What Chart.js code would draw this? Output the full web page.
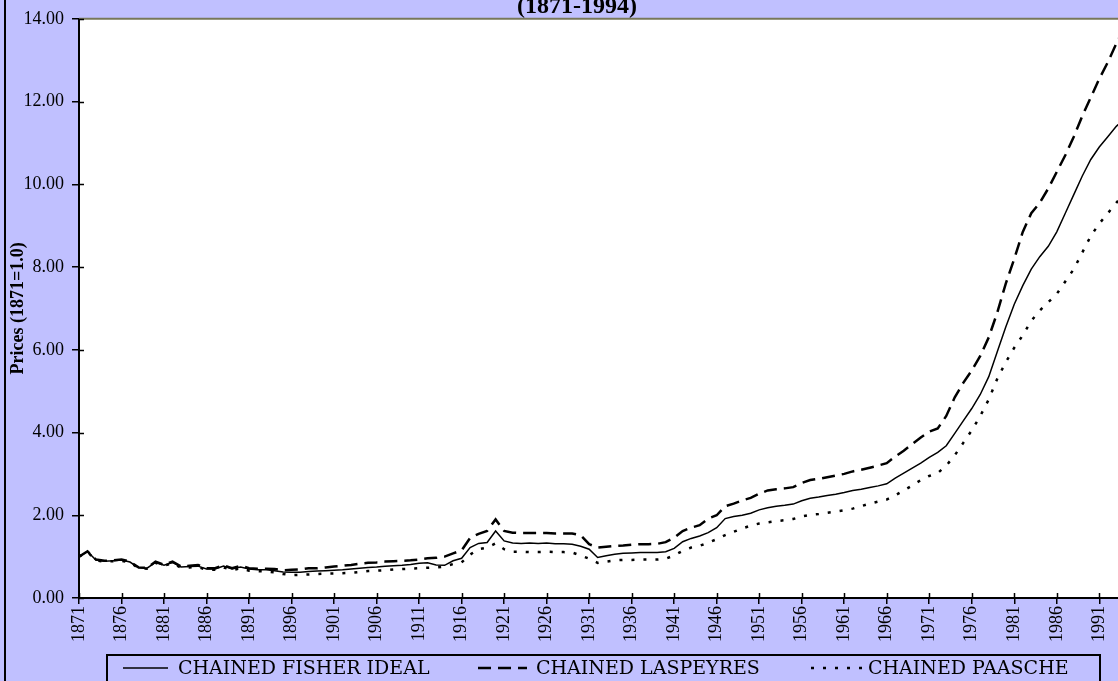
<!DOCTYPE html>
<html>
<head>
<meta charset="utf-8">
<script src="https://cdn.jsdelivr.net/npm/chart.js@4.4.1/dist/chart.umd.min.js"></script>
<style>
body { margin: 0; background: #c0c0ff; }
canvas { display: block; }
</style>
</head>
<body>
<canvas id="myChart-prix" width="1118" height="681"></canvas>
<script>
// annees
const years = [
    1871, 1872, 1873, 1874, 1875, 1876, 1877, 1878, 1879, 1880,
    1881, 1882, 1883, 1884, 1885, 1886, 1887, 1888, 1889, 1890,
    1891, 1892, 1893, 1894, 1895, 1896, 1897, 1898, 1899, 1900,
    1901, 1902, 1903, 1904, 1905, 1906, 1907, 1908, 1909, 1910,
    1911, 1912, 1913, 1914, 1915, 1916, 1917, 1918, 1919, 1920,
    1921, 1922, 1923, 1924, 1925, 1926, 1927, 1928, 1929, 1930,
    1931, 1932, 1933, 1934, 1935, 1936, 1937, 1938, 1939, 1940,
    1941, 1942, 1943, 1944, 1945, 1946, 1947, 1948, 1949, 1950,
    1951, 1952, 1953, 1954, 1955, 1956, 1957, 1958, 1959, 1960,
    1961, 1962, 1963, 1964, 1965, 1966, 1967, 1968, 1969, 1970,
    1971, 1972, 1973, 1974, 1975, 1976, 1977, 1978, 1979, 1980,
    1981, 1982, 1983, 1984, 1985, 1986, 1987, 1988, 1989, 1990,
    1991, 1992, 1993, 1994
];

// chained fisher ideal
const fisher = [
    1.00, 1.12, 0.92, 0.89, 0.90, 0.92, 0.87, 0.73, 0.72, 0.86,
    0.79, 0.86, 0.75, 0.76, 0.77, 0.70, 0.70, 0.77, 0.70, 0.75,
    0.70, 0.68, 0.68, 0.66, 0.63, 0.62, 0.62, 0.64, 0.65, 0.66,
    0.67, 0.68, 0.70, 0.72, 0.74, 0.75, 0.77, 0.78, 0.79, 0.81,
    0.84, 0.85, 0.80, 0.79, 0.90, 0.96, 1.22, 1.32, 1.34, 1.62,
    1.38, 1.33, 1.32, 1.33, 1.32, 1.33, 1.31, 1.31, 1.30, 1.25,
    1.18, 0.98, 1.02, 1.06, 1.08, 1.09, 1.10, 1.10, 1.10, 1.12,
    1.20, 1.36, 1.44, 1.50, 1.58, 1.70, 1.92, 1.97, 2.00, 2.05,
    2.13, 2.18, 2.22, 2.24, 2.27, 2.35, 2.41, 2.44, 2.48, 2.51,
    2.55, 2.60, 2.63, 2.67, 2.71, 2.76, 2.90, 3.02, 3.14, 3.26,
    3.40, 3.52, 3.68, 3.98, 4.28, 4.58, 4.92, 5.35, 5.95, 6.55,
    7.10, 7.55, 7.95, 8.25, 8.50, 8.85, 9.30, 9.75, 10.20, 10.60,
    10.90, 11.15, 11.40, 11.60
];

// chained laspeyres
const laspeyres = [
    1.00, 1.13, 0.93, 0.90, 0.91, 0.93, 0.88, 0.74, 0.73, 0.88,
    0.80, 0.88, 0.76, 0.78, 0.80, 0.72, 0.72, 0.79, 0.72, 0.78,
    0.72, 0.71, 0.71, 0.70, 0.67, 0.68, 0.69, 0.72, 0.72, 0.74,
    0.76, 0.78, 0.80, 0.83, 0.85, 0.86, 0.88, 0.89, 0.90, 0.91,
    0.93, 0.96, 0.97, 1.00, 1.08, 1.15, 1.45, 1.55, 1.62, 1.90,
    1.62, 1.58, 1.57, 1.57, 1.57, 1.57, 1.56, 1.56, 1.56, 1.52,
    1.30, 1.22, 1.24, 1.26, 1.27, 1.29, 1.30, 1.30, 1.31, 1.35,
    1.46, 1.62, 1.70, 1.76, 1.92, 2.00, 2.22, 2.28, 2.36, 2.42,
    2.52, 2.60, 2.63, 2.65, 2.68, 2.78, 2.85, 2.88, 2.92, 2.96,
    3.00, 3.06, 3.10, 3.15, 3.20, 3.26, 3.42, 3.56, 3.72, 3.88,
    4.02, 4.10, 4.40, 4.85, 5.20, 5.50, 5.85, 6.30, 6.90, 7.60,
    8.20, 8.85, 9.30, 9.55, 9.90, 10.30, 10.70, 11.15, 11.65, 12.10,
    12.55, 12.95, 13.40, 13.80
];

// chained paasche
const paasche = [
    1.00, 1.11, 0.91, 0.88, 0.89, 0.90, 0.86, 0.72, 0.71, 0.85,
    0.78, 0.84, 0.73, 0.74, 0.75, 0.68, 0.68, 0.74, 0.67, 0.72,
    0.66, 0.65, 0.64, 0.62, 0.58, 0.55, 0.56, 0.57, 0.58, 0.59,
    0.59, 0.60, 0.61, 0.63, 0.65, 0.66, 0.67, 0.69, 0.70, 0.71,
    0.72, 0.73, 0.74, 0.76, 0.82, 0.86, 1.05, 1.18, 1.22, 1.32,
    1.18, 1.12, 1.12, 1.11, 1.11, 1.12, 1.11, 1.11, 1.10, 1.03,
    0.95, 0.85, 0.88, 0.91, 0.92, 0.92, 0.93, 0.93, 0.93, 0.95,
    1.03, 1.14, 1.22, 1.26, 1.34, 1.42, 1.52, 1.60, 1.68, 1.75,
    1.80, 1.83, 1.86, 1.88, 1.91, 1.97, 2.01, 2.03, 2.06, 2.09,
    2.12, 2.16, 2.22, 2.28, 2.33, 2.38, 2.48, 2.60, 2.72, 2.85,
    2.95, 3.02, 3.20, 3.45, 3.75, 4.05, 4.40, 4.80, 5.30, 5.70,
    6.05, 6.35, 6.70, 6.95, 7.15, 7.35, 7.65, 7.95, 8.35, 8.75,
    9.05, 9.30, 9.55, 9.80
];

// etiquettes axe x
const xTickYears = [1871, 1876, 1881, 1886, 1891, 1896, 1901, 1906, 1911, 1916,
    1921, 1926, 1931, 1936, 1941, 1946, 1951, 1956, 1961, 1966, 1971, 1976,
    1981, 1986, 1991];

const legendLabels = ['CHAINED FISHER IDEAL', 'CHAINED LASPEYRES', 'CHAINED PAASCHE'];

const toPoints = (arr) => arr.map((v, i) => ({ x: years[i], y: v }));

const tickFont = { family: 'Liberation Serif', size: 18 };

// fond, bordures, titre et legende
const decor = {
    id: 'decor',
    beforeDraw(chart) {
        const { ctx, chartArea: a } = chart;
        ctx.save();
        ctx.fillStyle = '#c0c0ff';
        ctx.fillRect(0, 0, chart.width, chart.height);
        ctx.fillStyle = '#ffffff';
        ctx.fillRect(a.left, a.top, a.right - a.left, a.bottom - a.top);
        ctx.restore();
    },
    afterDraw(chart) {
        const { ctx, chartArea: a } = chart;
        const xs = chart.scales.x, ys = chart.scales.y;
        ctx.save();

        // bord haut du graphique
        ctx.strokeStyle = '#77775a';
        ctx.lineWidth = 2;
        ctx.beginPath();
        ctx.moveTo(a.left, a.top);
        ctx.lineTo(a.right, a.top);
        ctx.stroke();

        // petites graduations vers l'interieur
        ctx.strokeStyle = '#000';
        ctx.lineWidth = 1.5;
        ctx.beginPath();
        xs.ticks.forEach(t => {
            const px = Math.round(xs.getPixelForValue(t.value)) + 0.5;
            ctx.moveTo(px, a.bottom);
            ctx.lineTo(px, a.bottom - 5);
        });
        ys.ticks.forEach(t => {
            const py = Math.round(ys.getPixelForValue(t.value)) + 0.5;
            ctx.moveTo(a.left, py);
            ctx.lineTo(a.left + 5, py);
        });
        ctx.stroke();

        // bordure gauche
        ctx.fillStyle = '#000';
        ctx.fillRect(4, 0, 2, chart.height);

        // titre (coupe en haut)
        ctx.font = 'bold 24px "Liberation Serif"';
        ctx.textAlign = 'center';
        ctx.textBaseline = 'alphabetic';
        ctx.fillText('(1871-1994)', 577, 13);

        // legende
        ctx.lineWidth = 2;
        ctx.strokeRect(107, 655, 993, 40);
        const samples = [[123, 168, 178], [478, 527, 536], [811, 864, 868]];
        ctx.font = '19px "DejaVu Serif"';
        ctx.textAlign = 'left';
        ctx.textBaseline = 'middle';
        chart.data.datasets.forEach((ds, i) => {
            const s = samples[i];
            ctx.save();
            ctx.strokeStyle = '#000';
            ctx.lineWidth = ds.borderWidth;
            ctx.setLineDash(ds.borderDash || []);
            ctx.beginPath();
            ctx.moveTo(s[0], 668);
            ctx.lineTo(s[1], 668);
            ctx.stroke();
            ctx.restore();
            ctx.fillStyle = '#000';
            ctx.fillText(legendLabels[i], s[2], 669);
        });
        ctx.restore();
    }
};

const ctx1 = document.getElementById('myChart-prix').getContext('2d');
const myChart1 = new Chart(ctx1, {
    type: 'line',
    data: {
        datasets: [{
            label: legendLabels[0],
            data: toPoints(fisher),
            borderColor: '#000',
            borderWidth: 1.5,
            pointRadius: 0,
            tension: 0
        }, {
            label: legendLabels[1],
            data: toPoints(laspeyres),
            borderColor: '#000',
            borderWidth: 2.5,
            borderDash: [13, 7],
            pointRadius: 0,
            tension: 0
        }, {
            label: legendLabels[2],
            data: toPoints(paasche),
            borderColor: '#000',
            borderWidth: 2.5,
            borderDash: [3, 9],
            pointRadius: 0,
            tension: 0
        }]
    },
    options: {
        responsive: false,
        animation: false,
        layout: { padding: { top: 14, left: 0, right: 0, bottom: 33 } },
        plugins: {
            legend: { display: false },
            tooltip: { enabled: false }
        },
        scales: {
            x: {
                type: 'linear',
                min: 1871,
                max: 1993.2,
                afterBuildTicks: (scale) => {
                    scale.ticks = xTickYears.map(v => ({ value: v }));
                },
                afterFit: (scale) => {
                    scale.height = 50;
                    scale.paddingLeft = 0;
                    scale.paddingRight = 0;
                },
                ticks: {
                    autoSkip: false,
                    minRotation: 90,
                    maxRotation: 90,
                    color: '#000',
                    font: tickFont,
                    padding: 2,
                    callback: (v) => String(v)
                },
                grid: {
                    drawOnChartArea: false,
                    drawTicks: true,
                    tickLength: 6,
                    color: '#000',
                    lineWidth: 1.5
                },
                border: { display: true, color: '#000', width: 2 }
            },
            y: {
                min: 0,
                max: 14,
                afterFit: (scale) => { scale.width = 79; },
                ticks: {
                    stepSize: 2,
                    color: '#000',
                    font: tickFont,
                    padding: 8,
                    callback: (v) => v.toFixed(2)
                },
                grid: {
                    drawOnChartArea: false,
                    drawTicks: true,
                    tickLength: 7,
                    color: '#000',
                    lineWidth: 1.5
                },
                border: { display: true, color: '#000', width: 2 },
                title: {
                    display: true,
                    text: 'Prices (1871=1.0)',
                    color: '#000',
                    font: { family: 'Liberation Serif', size: 18, weight: 'bold' },
                    padding: { top: 8, bottom: 0 }
                }
            }
        }
    },
    plugins: [decor]
});
</script>
</body>
</html>
